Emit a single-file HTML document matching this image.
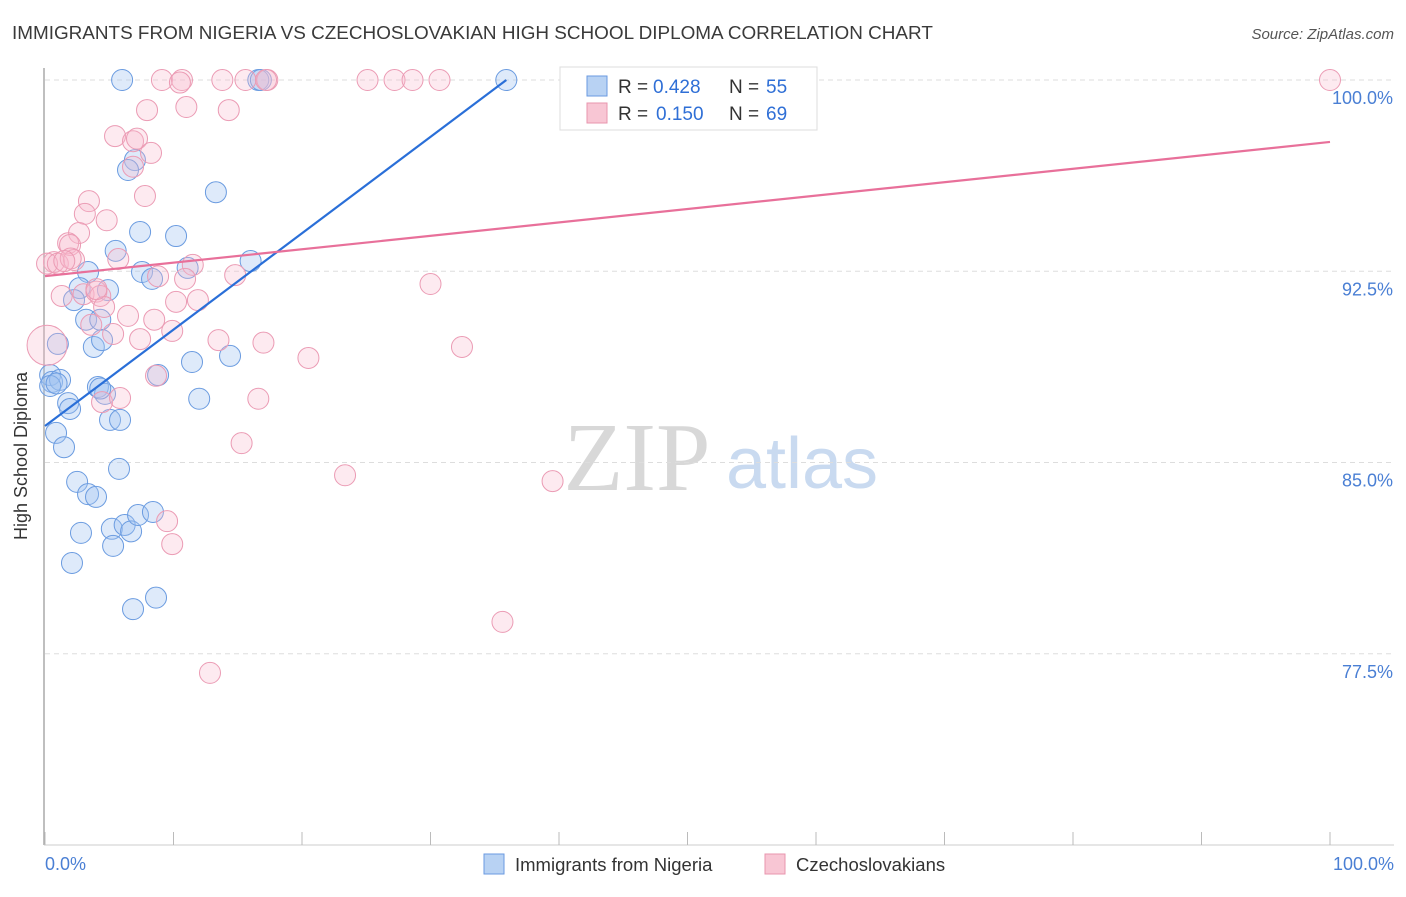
<!DOCTYPE html>
<html><head><meta charset="utf-8"><style>
body{margin:0;background:#fff;font-family:"Liberation Sans",sans-serif}
</style></head><body>
<svg width="1406" height="892" xmlns="http://www.w3.org/2000/svg" id="svg">
<text x="12" y="39" font-size="18.9" fill="#3a3a3a">IMMIGRANTS FROM NIGERIA VS CZECHOSLOVAKIAN HIGH SCHOOL DIPLOMA CORRELATION CHART</text>
<text x="1394" y="39" font-size="15" font-style="italic" fill="#555" text-anchor="end">Source: ZipAtlas.com</text>
<text x="637" y="490" font-size="98" font-family="Liberation Serif,serif" fill="#d8d8d8" text-anchor="middle">ZIP</text>
<text x="802" y="488" font-size="72" fill="#c9daf0" text-anchor="middle">atlas</text>
<g id="grid"></g>
<line x1="44" y1="68" x2="44" y2="845" stroke="#aaa" stroke-width="1.5"/>
<line x1="44" y1="845" x2="1394" y2="845" stroke="#ccc"/>
<g id="xt"></g>
<text x="27" y="456" font-size="18" fill="#333" text-anchor="middle" transform="rotate(-90 27 456)">High School Diploma</text>
<text x="45" y="870" font-size="18" fill="#4a7fd4">0.0%</text>
<text x="1394" y="870" font-size="18" fill="#4a7fd4" text-anchor="end">100.0%</text>
<g id="pts"></g>
<g id="lines"></g>
<g>
<rect x="560" y="67" width="257" height="63" fill="#fff" stroke="#ddd"/>
<rect x="587" y="76" width="20" height="20" fill="#b8d2f3" stroke="#6a9ae0"/>
<rect x="587" y="103" width="20" height="20" fill="#f8c6d4" stroke="#e895ae"/>
<text x="618" y="93" font-size="19" fill="#333">R =</text>
<text x="653" y="93" font-size="19" fill="#2f6fd6">0.428</text>
<text x="729" y="93" font-size="19" fill="#333">N =</text>
<text x="766" y="93" font-size="19" fill="#2f6fd6">55</text>
<text x="618" y="120" font-size="19" fill="#333">R =</text>
<text x="656" y="120" font-size="19" fill="#2f6fd6">0.150</text>
<text x="729" y="120" font-size="19" fill="#333">N =</text>
<text x="766" y="120" font-size="19" fill="#2f6fd6">69</text>
</g>
<g>
<rect x="484" y="854" width="20" height="20" fill="#b8d2f3" stroke="#6a9ae0"/>
<text x="515" y="871" font-size="18.5" fill="#333">Immigrants from Nigeria</text>
<rect x="765" y="854" width="20" height="20" fill="#f8c6d4" stroke="#e895ae"/>
<text x="796" y="871" font-size="18.5" fill="#333">Czechoslovakians</text>
</g>
</svg>
<script>
const yTicks=[100,92.5,85,77.5];
const yTickLabels=["100.0%","92.5%","85.0%","77.5%"];
const xTicks=[0,10,20,30,40,50,60,70,80,90,100];
const blueX=[6.0,16.6,35.9,7.0,6.46,13.3,7.4,10.2,5.5,16.0,3.35,7.55,8.33,11.1,2.7,4.9,2.26,3.2,4.3,3.8,4.44,1.0,11.44,14.4,8.8,0.4,0.55,1.17,0.4,4.12,4.67,1.8,1.95,12.0,5.06,5.84,0.86,1.48,5.76,2.5,3.35,3.97,2.8,5.2,6.2,6.7,7.24,8.4,5.3,2.1,6.85,8.64,4.3,16.8,0.9];
const blueY=[100,100,100,96.86,96.47,95.6,94.04,93.88,93.3,92.9,92.47,92.47,92.2,92.63,91.84,91.76,91.37,90.6,90.6,89.53,89.8,89.65,88.94,89.18,88.43,88.43,88.16,88.24,88.0,87.96,87.69,87.33,87.1,87.5,86.67,86.67,86.16,85.6,84.75,84.24,83.76,83.65,82.24,82.4,82.55,82.3,82.94,83.06,81.73,81.06,79.25,79.7,87.9,100,88.1];
const pinkX=[9.1,10.66,10.5,13.8,15.6,17.3,25.1,27.2,28.6,30.7,100,7.94,11.0,14.3,5.45,6.85,7.16,8.25,6.85,7.78,3.42,3.1,4.8,2.65,1.8,1.95,0.7,0.16,1.0,2.26,5.7,8.8,11.5,14.8,30.0,1.3,3.0,4.0,4.3,4.6,10.2,11.9,6.46,8.5,7.4,5.3,9.9,13.5,17.0,20.5,32.45,0.16,8.64,4.44,5.84,16.6,15.3,23.35,39.5,9.5,9.9,35.6,12.84,2.0,4.0,1.5,17.2,3.6,10.9];
const pinkY=[100,100,99.9,100,100,100,100,100,100,100,100,98.82,98.94,98.82,97.8,97.6,97.7,97.14,96.6,95.45,95.25,94.75,94.5,94.0,93.6,93.53,92.86,92.8,92.8,92.94,92.98,92.3,92.75,92.35,92.0,91.53,91.6,91.7,91.53,91.1,91.3,91.37,90.75,90.6,89.84,90.04,90.16,89.8,89.7,89.1,89.53,89.6,88.4,87.37,87.53,87.5,85.76,84.5,84.27,82.7,81.8,78.75,76.75,93.0,91.8,92.9,100,90.4,92.2];
const pinkSize=[];pinkSize[51]=20;
const blueTrend=[86.43,100,35.9];
const pinkTrend=[92.31,97.57,100];
const NS="http://www.w3.org/2000/svg";
const X=v=>45+v*12.85, Y=v=>80+(100-v)*25.5;
function mk(t,a,p){const e=document.createElementNS(NS,t);for(const k in a)e.setAttribute(k,a[k]);document.getElementById(p).appendChild(e);return e;}
yTicks.forEach((t,i)=>{
 const l=mk('line',{x1:45,x2:1394,y1:Y(t),y2:Y(t),stroke:'#ddd','stroke-dasharray':'5,4'},'grid');
 
 
 const tx=mk('text',{x:1393,y:Y(t)+24,'font-size':18,fill:'#4a7fd4','text-anchor':'end'},'grid');
 tx.textContent=yTickLabels[i];
 
 
});
xTicks.forEach(t=>{
 const l=mk('line',{x1:X(t),x2:X(t),y1:832,y2:845,stroke:'#bbb'},'xt');
 
 
});
blueX.forEach((x,i)=>{
 const c=mk('circle',{cx:X(x),cy:Y(blueY[i]),r:10.5,fill:'rgba(160,196,240,0.35)',stroke:'#6a9be0','stroke-width':1},'pts');
 
 
});
pinkX.forEach((x,i)=>{
 const c=mk('circle',{cx:X(x),cy:Y(pinkY[i]),r:pinkSize[i]||10.5,fill:'rgba(248,185,205,0.3)',stroke:'#eb9bb4','stroke-width':1},'pts');
 
 
});
const bl=mk('line',{x1:X(0),y1:Y(blueTrend[0]),x2:X(blueTrend[2]),y2:Y(blueTrend[1]),stroke:'#2a6fd8','stroke-width':2.2},'lines');


const pl=mk('line',{x1:X(0),y1:Y(pinkTrend[0]),x2:X(pinkTrend[2]),y2:Y(pinkTrend[1]),stroke:'#e8709a','stroke-width':2.2},'lines');


</script>
</body></html>
